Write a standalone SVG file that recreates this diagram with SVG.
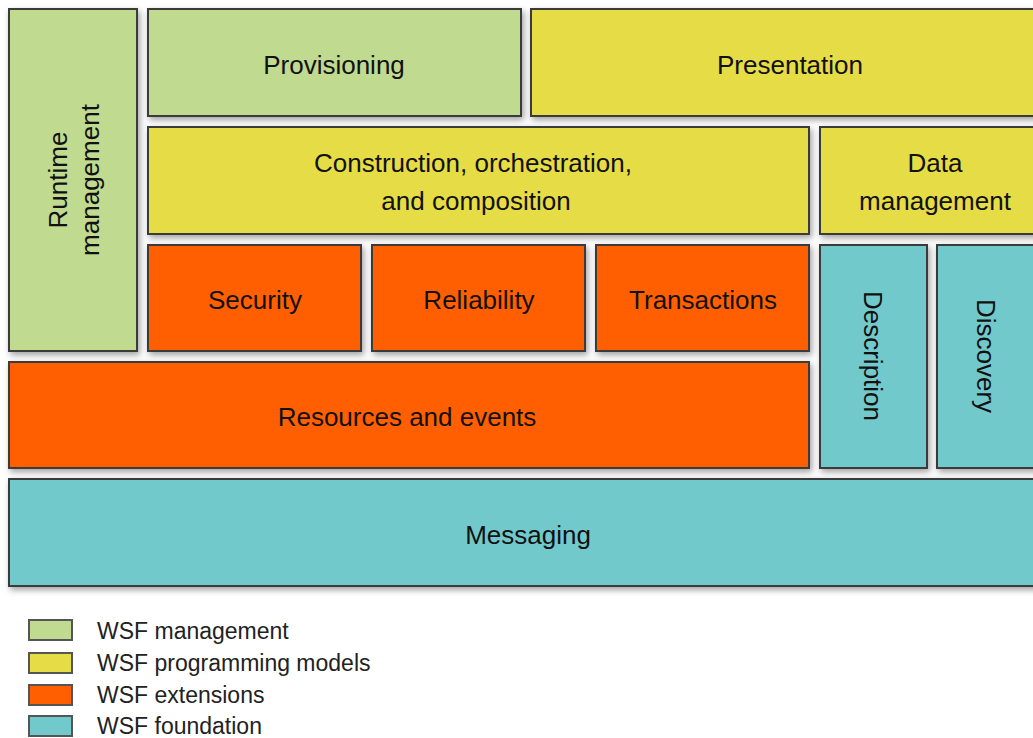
<svg xmlns="http://www.w3.org/2000/svg" width="1033" height="738" viewBox="0 0 1033 738">
<style>
.b{stroke:#3a3a3a;stroke-width:2;filter:url(#sh)}
.g{fill:#c0da8f}.y{fill:#e6dc45}.o{fill:#ff5f00}.t{fill:#72c9cc}
.l{font-family:"Liberation Sans",Arial,sans-serif;font-size:26px;fill:#111;text-anchor:middle}
.lg{font-family:"Liberation Sans",Arial,sans-serif;font-size:23px;fill:#222}
.s{stroke:#555;stroke-width:2}
</style>
<defs>
<filter id="sh" x="-10%" y="-10%" width="130%" height="130%">
<feDropShadow dx="2" dy="3" stdDeviation="3" flood-color="#777" flood-opacity="0.7"/>
</filter>
</defs>
<rect width="1033" height="738" fill="#fff"/>
<g id="runtime"><rect class="b g" x="9" y="9" width="128" height="342"/>
<text class="l" transform="translate(73,180) rotate(-90)"><tspan x="0" y="-6">Runtime</tspan><tspan x="0" y="26">management</tspan></text></g>
<g id="provisioning"><rect class="b g" x="148" y="9" width="373" height="107"/><text class="l" x="334" y="74">Provisioning</text></g>
<g id="presentation"><rect class="b y" x="531" y="9" width="510" height="107"/><text class="l" x="790" y="74">Presentation</text></g>
<g id="construction"><rect class="b y" x="148" y="127" width="661" height="107"/><text class="l" x="473" y="172">Construction, orchestration,</text><text class="l" x="476" y="210">and composition</text></g>
<g id="data"><rect class="b y" x="820" y="127" width="221" height="107"/><text class="l" x="935" y="172">Data</text><text class="l" x="935" y="210">management</text></g>
<g id="security"><rect class="b o" x="148" y="245" width="213" height="106"/><text class="l" x="255" y="309">Security</text></g>
<g id="reliability"><rect class="b o" x="372" y="245" width="213" height="106"/><text class="l" x="479" y="309">Reliability</text></g>
<g id="transactions"><rect class="b o" x="596" y="245" width="213" height="106"/><text class="l" x="703" y="309">Transactions</text></g>
<g id="description"><rect class="b t" x="820" y="245" width="107" height="223"/><text class="l" transform="translate(864,356) rotate(90)">Description</text></g>
<g id="discovery"><rect class="b t" x="937" y="245" width="104" height="223"/><text class="l" transform="translate(977,356) rotate(90)">Discovery</text></g>
<g id="resources"><rect class="b o" x="9" y="362" width="800" height="106"/><text class="l" x="407" y="426">Resources and events</text></g>
<g id="messaging"><rect class="b t" x="9" y="479" width="1032" height="107"/><text class="l" x="528" y="544">Messaging</text></g>
<g id="legend">
<rect class="s g" x="29" y="620" width="43" height="20"/><text class="lg" x="97" y="639">WSF management</text>
<rect class="s y" x="29" y="653" width="43" height="20"/><text class="lg" x="97" y="671">WSF programming models</text>
<rect class="s o" x="29" y="685" width="43" height="20"/><text class="lg" x="97" y="703">WSF extensions</text>
<rect class="s t" x="29" y="716" width="43" height="20"/><text class="lg" x="97" y="734">WSF foundation</text>
</g>
<g id="connectors"/>
</svg>
